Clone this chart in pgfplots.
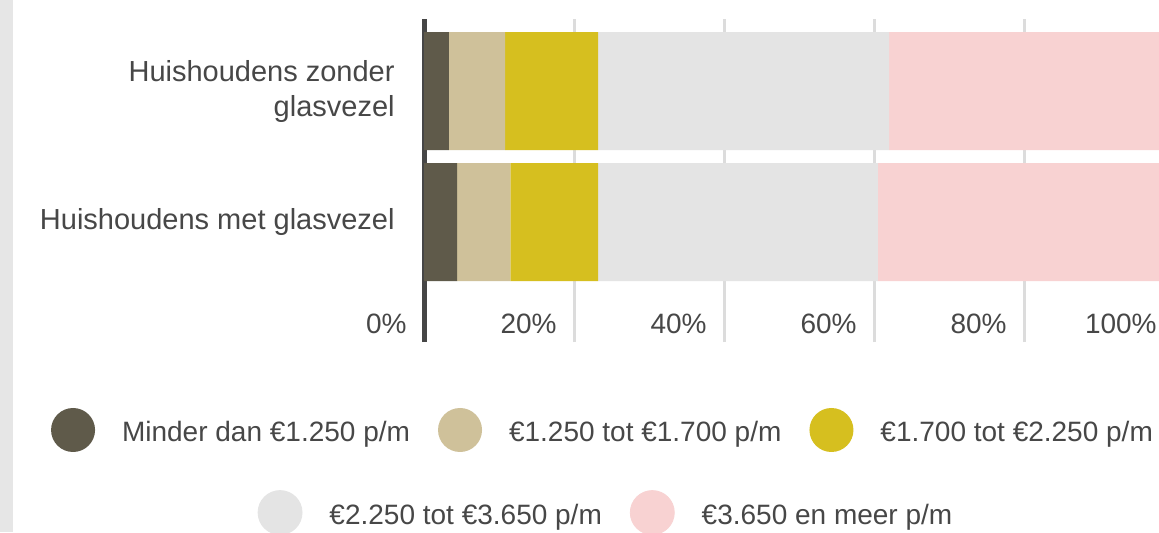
\documentclass[border=0pt]{standalone}
\usepackage{fontspec}
\setmainfont{Liberation Sans}
\usepackage{pgfplots}
\pgfplotsset{compat=1.18}

\definecolor{c1}{HTML}{5F5A4A}
\definecolor{c2}{HTML}{CFC19A}
\definecolor{c3}{HTML}{D6BF1F}
\definecolor{c4}{HTML}{E4E4E4}
\definecolor{c5}{HTML}{F8D2D2}
\definecolor{txt}{HTML}{474747}
\definecolor{axisc}{HTML}{464646}
\definecolor{gridc}{HTML}{DCDCDC}
\definecolor{strip}{HTML}{E6E6E6}

\pgfplotsset{
  circ/.style={legend image code/.code={\fill[#1] (0pt,1.4pt) circle (11pt);}},
  rowlegend/.style={
    legend columns=-1,
    legend style={draw=none, fill=none, inner sep=0pt, anchor=center,
      font=\fontsize{14}{17}\selectfont, text=txt,
      nodes={inner sep=0pt},
      /tikz/every odd column/.append style={column sep=13.5pt},
      /tikz/every even column/.append style={column sep=14pt}},
  },
  frame/.style={
    at={(212pt,95pt)}, anchor=south west,
    scale only axis, width=375pt, height=161.5pt,
    xmin=0, xmax=100, ymin=-0.916, ymax=1.55,
  },
}

\begin{document}
\begin{tikzpicture}
\path[use as bounding box] (0pt,0pt) rectangle (579.5pt,266pt);
\clip (0pt,0pt) rectangle (579.5pt,266pt);
\fill[white] (0pt,0pt) rectangle (579.5pt,266pt);
\fill[strip] (0pt,0pt) rectangle (6.5pt,266pt);

\begin{axis}[frame,
  clip=false,
  xbar stacked, bar width=59pt,
  axis lines=left, axis line style={draw=none},
  major tick length=0pt, tick style={draw=none},
  xmajorgrids, grid style={line width=1.5pt, gridc},
  xtick={0,20,40,60,80,100},
  xticklabels={0\%,20\%,40\%,60\%,80\%,100\%},
  xticklabel style={anchor=base east, inner sep=0pt, xshift=-8.5pt, yshift=4.5pt,
    font=\fontsize{14}{17}\selectfont, text=txt},
  ytick={0,1},
  yticklabels={{Huishoudens met glasvezel},{Huishoudens zonder\\glasvezel}},
  yticklabel style={anchor=east, align=right, inner sep=0pt, xshift=-14.5pt,
    font=\fontsize{14.5}{17.5}\selectfont, text=txt},
  rowlegend,
  legend style={at={(0.2373,-0.2724)}},
]
\addplot[fill=c1, draw=none, circ=c1] coordinates {(4.4,0) (3.3,1)};
\addlegendentry{Minder dan €1.250 p/m}
\addplot[fill=c2, draw=none, circ=c2] coordinates {(7.1,0) (7.5,1)};
\addlegendentry{€1.250 tot €1.700 p/m}
\addplot[fill=c3, draw=none, circ=c3] coordinates {(11.7,0) (12.4,1)};
\addlegendentry{€1.700 tot €2.250 p/m}
\addplot[fill=c4, draw=none] coordinates {(37.3,0) (38.8,1)};
\addplot[fill=c5, draw=none] coordinates {(39.5,0) (38.0,1)};
\draw[axisc, line width=2.5pt] (axis description cs:0,0) -- (axis description cs:0,1);
\end{axis}

\begin{axis}[frame, hide axis, rowlegend,
  legend style={at={(0.2413,-0.528)}}]
\addlegendimage{circ=c4}
\addlegendentry{€2.250 tot €3.650 p/m}
\addlegendimage{circ=c5}
\addlegendentry{€3.650 en meer p/m}
\end{axis}
\end{tikzpicture}
\end{document}
